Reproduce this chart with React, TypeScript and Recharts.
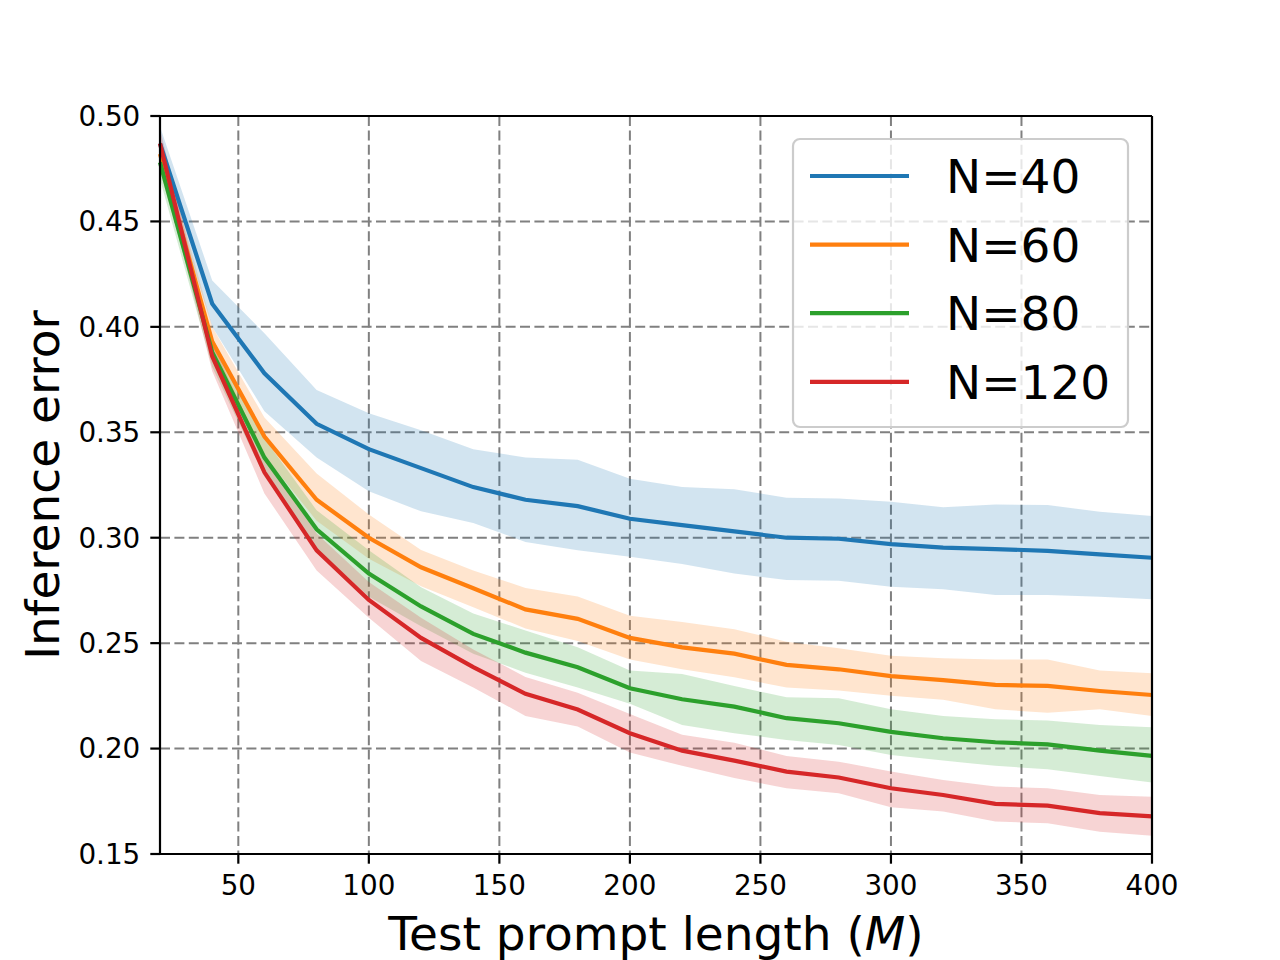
import {
  CartesianGrid,
  ComposedChart,
  Area,
  Line,
  ReferenceLine,
  XAxis,
  YAxis,
} from "recharts";

// prompt lengths M
const promptLengths = [
  20, 40, 60, 80, 100, 120, 140, 160, 180, 200, 220, 240, 260, 280, 300, 320,
  340, 360, 380, 400,
];

// N=40
const n40Mean = [
  0.487, 0.411, 0.378, 0.354, 0.342, 0.333, 0.324, 0.318, 0.315, 0.309, 0.306,
  0.303, 0.3, 0.2995, 0.297, 0.2953, 0.2946, 0.2938, 0.2921, 0.2905,
];
const n40Upper = [
  0.495, 0.422, 0.397, 0.37, 0.359, 0.351, 0.342, 0.338, 0.337, 0.328, 0.324,
  0.323, 0.319, 0.3186, 0.317, 0.3144, 0.3158, 0.3155, 0.3123, 0.3103,
];
const n40Lower = [
  0.479, 0.4, 0.36, 0.338, 0.322, 0.3125, 0.307, 0.298, 0.294, 0.291, 0.2875,
  0.283, 0.28, 0.2796, 0.2768, 0.2755, 0.2728, 0.2728, 0.272, 0.2708,
];

// N=60
const n60Mean = [
  0.482, 0.393, 0.348, 0.318, 0.3, 0.286, 0.276, 0.266, 0.2615, 0.2525, 0.248,
  0.245, 0.2397, 0.2376, 0.2344, 0.2325, 0.2302, 0.2297, 0.2273, 0.2254,
];
const n60Upper = [
  0.49, 0.4, 0.357, 0.3305, 0.311, 0.2942, 0.2844, 0.2762, 0.2721, 0.263, 0.26,
  0.2566, 0.2507, 0.2476, 0.244, 0.2428, 0.2423, 0.2423, 0.237, 0.2357,
];
const n60Lower = [
  0.474, 0.386, 0.339, 0.308, 0.29, 0.277, 0.267, 0.257, 0.251, 0.2423, 0.2376,
  0.2338, 0.229, 0.2275, 0.225, 0.2231, 0.2186, 0.217, 0.2186, 0.2155,
];

// N=80
const n80Mean = [
  0.478, 0.388, 0.338, 0.304, 0.283, 0.2674, 0.2544, 0.2455, 0.2386, 0.2286,
  0.2234, 0.2199, 0.2144, 0.212, 0.2079, 0.2049, 0.203, 0.202, 0.199, 0.1965,
];
const n80Upper = [
  0.486, 0.395, 0.347, 0.313, 0.294, 0.2765, 0.264, 0.256, 0.248, 0.237, 0.2354,
  0.2297, 0.2243, 0.2239, 0.2186, 0.2155, 0.2139, 0.2133, 0.2112, 0.2101,
];
const n80Lower = [
  0.47, 0.381, 0.329, 0.295, 0.272, 0.258, 0.245, 0.236, 0.229, 0.2212, 0.2112,
  0.2073, 0.2041, 0.2017, 0.197, 0.1943, 0.1918, 0.1902, 0.187, 0.1839,
];

// N=120
const n120Mean = [
  0.487, 0.386, 0.331, 0.294, 0.2705, 0.2525, 0.2386, 0.226, 0.2185, 0.2073,
  0.199, 0.1943, 0.1891, 0.1863, 0.1812, 0.178, 0.1738, 0.1729, 0.1694, 0.1678,
];
const n120Upper = [
  0.494, 0.392, 0.339, 0.302, 0.279, 0.262, 0.247, 0.234, 0.2265, 0.2164,
  0.2065, 0.2028, 0.1965, 0.1938, 0.1891, 0.1851, 0.182, 0.1812, 0.178, 0.1772,
];
const n120Lower = [
  0.479, 0.379, 0.321, 0.2844, 0.262, 0.2415, 0.229, 0.2155, 0.2105, 0.1981,
  0.1918, 0.186, 0.1812, 0.1788, 0.1722, 0.1701, 0.1654, 0.1646, 0.1606, 0.1586,
];

const xTicks = [50, 100, 150, 200, 250, 300, 350, 400];
const yTicks = [0.15, 0.2, 0.25, 0.3, 0.35, 0.4, 0.45, 0.5];

const series = [
  { key: "n40", name: "N=40", color: "#1f77b4", mean: n40Mean, lo: n40Lower, hi: n40Upper },
  { key: "n60", name: "N=60", color: "#ff7f0e", mean: n60Mean, lo: n60Lower, hi: n60Upper },
  { key: "n80", name: "N=80", color: "#2ca02c", mean: n80Mean, lo: n80Lower, hi: n80Upper },
  { key: "n120", name: "N=120", color: "#d62728", mean: n120Mean, lo: n120Lower, hi: n120Upper },
];

const rows = promptLengths.map((m, i) => {
  const row: Record<string, number | number[]> = { m };
  series.forEach((s) => {
    row[s.key] = s.mean[i];
    row[s.key + "Band"] = [s.lo[i], s.hi[i]];
  });
  return row;
});

const FONT = "'DejaVu Sans', sans-serif";
const LABEL_SIZE = 47;
const tickStyle = { fontSize: 27.8, fill: "#000", fontFamily: FONT };

function Legend() {
  return (
    <svg
      width={1280}
      height={960}
      style={{ position: "absolute", left: 0, top: 0, pointerEvents: "none" }}
    >
      <rect
        x={793}
        y={139}
        width={335}
        height={288}
        rx={7}
        fill="#fff"
        fillOpacity={0.8}
        stroke="#cccccc"
        strokeWidth={2.2}
      />
      {series.map((s, i) => {
        const y = 176 + i * 68.6;
        return (
          <g key={s.key}>
            <line x1={810} x2={909} y1={y} y2={y} stroke={s.color} strokeWidth={4.2} />
            <text x={946} y={y + 17} fontSize={LABEL_SIZE} fontFamily={FONT} fill="#000">
              {s.name}
            </text>
          </g>
        );
      })}
    </svg>
  );
}

export default function App() {
  return (
    <div style={{ position: "absolute", left: 0, top: 0, width: 1280, height: 960, background: "#fff" }}>
      <ComposedChart
        width={1280}
        height={960}
        data={rows}
        margin={{ top: 116, right: 128, bottom: 0, left: 0 }}
      >
        <CartesianGrid stroke="#808080" strokeDasharray="10 4.4" strokeWidth={2} />
        <XAxis
          dataKey="m"
          type="number"
          domain={[20, 400]}
          ticks={xTicks}
          height={106}
          tick={tickStyle}
          tickSize={9.7}
          tickMargin={12}
          axisLine={{ stroke: "#000", strokeWidth: 2.2 }}
          tickLine={{ stroke: "#000", strokeWidth: 2.2 }}
          label={{
            content: () => (
              <text x={656} y={950} textAnchor="middle" fontSize={LABEL_SIZE} fontFamily={FONT} fill="#000">
                Test prompt length (<tspan fontStyle="italic">M</tspan>)
              </text>
            ),
          }}
        />
        <YAxis
          type="number"
          domain={[0.15, 0.5]}
          ticks={yTicks}
          width={160}
          tick={tickStyle}
          tickSize={9.7}
          tickMargin={10}
          tickFormatter={(v: number) => v.toFixed(2)}
          axisLine={{ stroke: "#000", strokeWidth: 2.2 }}
          tickLine={{ stroke: "#000", strokeWidth: 2.2 }}
          label={{
            content: () => (
              <text
                x={59}
                y={485}
                transform="rotate(-90 59 485)"
                textAnchor="middle"
                fontSize={LABEL_SIZE}
                fontFamily={FONT}
                fill="#000"
              >
                Inference error
              </text>
            ),
          }}
        />
        {series.map((s) => (
          <Area
            key={s.key + "Band"}
            dataKey={s.key + "Band"}
            type="linear"
            stroke="none"
            fill={s.color}
            fillOpacity={0.2}
            isAnimationActive={false}
          />
        ))}
        {series.map((s) => (
          <Line
            key={s.key}
            dataKey={s.key}
            type="linear"
            stroke={s.color}
            strokeWidth={4.2}
            dot={false}
            activeDot={false}
            isAnimationActive={false}
          />
        ))}
        <ReferenceLine y={0.5} stroke="#000" strokeWidth={2.2} />
        <ReferenceLine x={400} stroke="#000" strokeWidth={2.2} />
      </ComposedChart>
      <Legend />
    </div>
  );
}
